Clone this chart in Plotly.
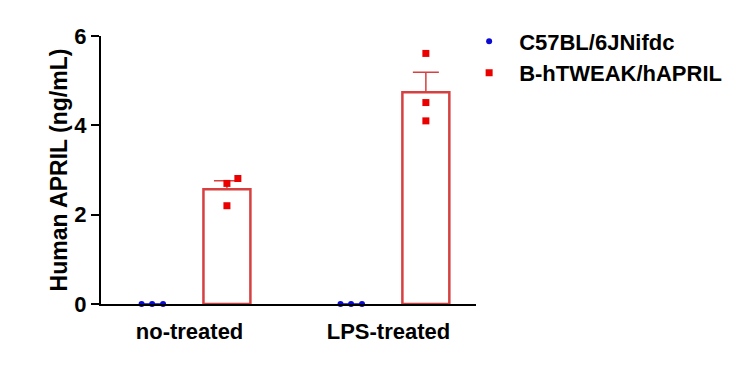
import numpy as np
import plotly.graph_objects as go

categories = ["no-treated", "LPS-treated"]
series_names = ["C57BL/6JNifdc", "B-hTWEAK/hAPRIL"]
# individual replicate values (ng/mL)
wt_values = [[0.0, 0.0, 0.0], [0.0, 0.0, 0.0]]
hu_values = [[2.70, 2.20, 2.81], [5.61, 4.51, 4.10]]
y_ticks = [0, 2, 4, 6]

FONT = "Liberation Sans, Arial, sans-serif"
red_line = "rgb(214,64,64)"
red_pt = "rgb(235,0,0)"
blue_pt = "rgb(10,10,210)"

pos = np.arange(len(categories))
offset = 0.188
jitter = [-0.053, 0.0, 0.055]
jitter_red = [[0.0, 0.0, 0.055], [0.0, 0.0, 0.0]]

def stats(vals):
    a = np.array(vals)
    m = a.mean(axis=1)
    sem = a.std(axis=1, ddof=1) / np.sqrt(a.shape[1])
    return m, sem

wt_mean, wt_sem = stats(wt_values)
hu_mean, hu_sem = stats(hu_values)

fig = go.Figure()
for xpos, mean, sem, color, lw in [(pos - offset, wt_mean, wt_sem, blue_pt, 0),
                                   (pos + offset, hu_mean, hu_sem, red_line, 2.5)]:
    fig.add_trace(go.Bar(
        x=xpos, y=mean, width=0.236,
        marker=dict(color="rgba(0,0,0,0)", line=dict(color=color, width=lw)),
        error_y=dict(type="data", array=sem, symmetric=False, arrayminus=[0]*len(sem),
                     color=color, thickness=1.5, width=13, visible=True),
        showlegend=False, hoverinfo="skip",
    ))

wx, wy, hx, hy = [], [], [], []
for i in range(len(categories)):
    for j in range(3):
        wx.append(pos[i] - offset + jitter[j]); wy.append(wt_values[i][j])
        hx.append(pos[i] + offset + jitter_red[i][j]); hy.append(hu_values[i][j])

fig.add_trace(go.Scatter(x=wx, y=wy, mode="markers", name=series_names[0], legendgroup="a",
                         marker=dict(symbol="circle", size=6, color=blue_pt), cliponaxis=False))
fig.add_trace(go.Scatter(x=hx, y=hy, mode="markers", name=series_names[1], legendgroup="b",
                         marker=dict(symbol="square", size=7, color=red_pt), cliponaxis=False))

fig.update_layout(
    width=742, height=369,
    margin=dict(l=93, r=274, t=26, b=73),
    paper_bgcolor="white", plot_bgcolor="white",
    font=dict(family=FONT, size=22, color="black"),
    barmode="overlay",
    legend=dict(x=0.955, xanchor="left", y=1.058, yanchor="top", itemwidth=50,
                font=dict(family=FONT, size=22, color="black", weight="bold"),
                tracegroupgap=0, bgcolor="rgba(0,0,0,0)"),
    xaxis=dict(range=[-0.445, 1.44], tickvals=list(pos), ticktext=[f"<b>{c}</b>" for c in categories],
               showline=True, linecolor="black", linewidth=2, ticks="", showgrid=False,
               zeroline=False, tickfont=dict(size=22), ticklabelstandoff=7),
    yaxis=dict(range=[0, 6], tickvals=y_ticks, ticktext=[f"<b>{t}</b>" for t in y_ticks],
               showline=True, linecolor="black", linewidth=2, ticks="outside", ticklen=8,
               tickwidth=2, tickcolor="black", showgrid=False, zeroline=False,
               ticklabelstandoff=0,
               title=dict(text="<b>Human APRIL (ng/mL)</b>", font=dict(size=23), standoff=0),
               tickfont=dict(size=22)),
)

fig.write_html("out.html")
